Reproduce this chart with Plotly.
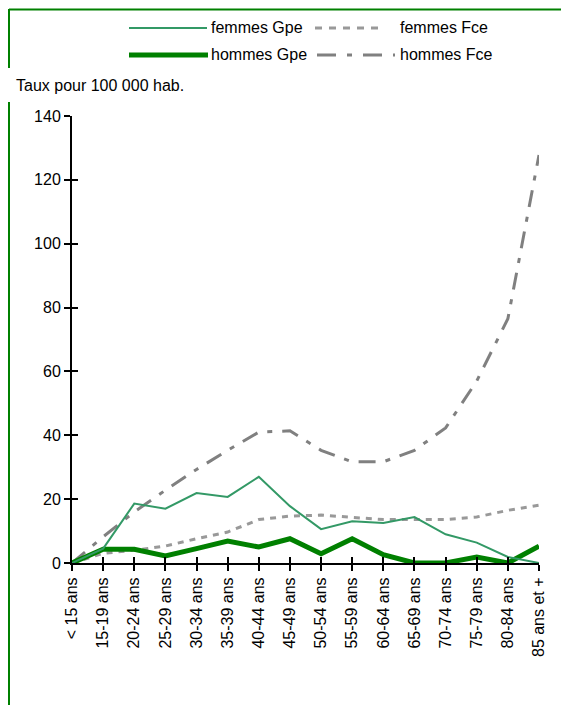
import plotly.graph_objects as go

# 16 age groups
categories = ["< 15 ans", "15-19 ans", "20-24 ans", "25-29 ans", "30-34 ans", "35-39 ans",
              "40-44 ans", "45-49 ans", "50-54 ans", "55-59 ans", "60-64 ans", "65-69 ans",
              "70-74 ans", "75-79 ans", "80-84 ans", "85 ans et +"]

femmes_gpe = [0, 4.5, 18.6, 17.0, 21.9, 20.7, 27.0, 17.8, 10.6, 13.1, 12.5, 14.4, 9.0, 6.4, 1.9, 0]
hommes_gpe = [0, 4.3, 4.3, 2.2, 4.5, 6.9, 5.0, 7.6, 2.9, 7.6, 2.6, 0, 0, 1.9, 0, 5.3]
femmes_fce = [0, 3.0, 4.0, 5.3, 7.6, 9.7, 13.6, 14.7, 15.0, 14.4, 13.6, 13.6, 13.6, 14.4, 16.5, 18.1]
hommes_fce = [0, 8.2, 16.0, 22.8, 29.3, 35.3, 41.0, 41.4, 35.3, 31.7, 31.7, 35.3, 42.3, 57.0, 76.5, 127.8]

y_ticks = [0, 20, 40, 60, 80, 100, 120, 140]

# the page body adds an 8 px offset; layout is expressed in page pixels below
OFF = 8
W, H = 569, 705
PL, PR, PT, PB = 72, 539, 116, 563          # plot area in page pixels
L, T = PL - OFF, PT - OFF
R, B = W - (PR - OFF), H - (PB - OFF)
PW, PH = PR - PL, PB - PT


def px(x):
    return (x - PL) / PW


def py(y):
    return (PB - y) / PH


FONT = "Liberation Sans, Arial, sans-serif"
FS = 16

fig = go.Figure()

series = [
    ("femmes Gpe", femmes_gpe, dict(color="#339966", width=2)),
    ("femmes Fce", femmes_fce, dict(color="#999999", width=3, dash="6px,6px")),
    ("hommes Fce", hommes_fce, dict(color="#808080", width=3, dash="17px,10px,5px,10px")),
    ("hommes Gpe", hommes_gpe, dict(color="#008000", width=5)),
]
for i, (name, vals, line) in enumerate(series):
    fig.add_trace(go.Scatter(
        x=categories, y=vals, name=name, mode="lines", line=line,
        showlegend=False, hoverinfo="skip",
        xaxis="x2" if i == 0 else "x", yaxis="y2" if i == 0 else "y",
    ))

axis_common = dict(showgrid=False, zeroline=False, color="black",
                   tickfont=dict(family=FONT, size=FS, color="black"))

fig.update_layout(
    width=W, height=H,
    margin=dict(l=L, r=R, t=T, b=B),
    paper_bgcolor="white", plot_bgcolor="white",
    font=dict(family=FONT, size=FS, color="black"),
    xaxis=dict(type="category", categoryorder="array", categoryarray=categories,
               range=[0, len(categories) - 1], showline=True, linecolor="black",
               linewidth=2, ticks="outside", ticklen=6, tickwidth=2, tickcolor="black",
               tickangle=-90, layer="below traces", **axis_common),
    yaxis=dict(range=[0, 140], tickvals=y_ticks, showline=True, linecolor="black",
               linewidth=2, ticks="outside", ticklen=6, tickwidth=2, tickcolor="black",
               layer="below traces", **axis_common),
    xaxis2=dict(type="category", categoryorder="array", categoryarray=categories,
                range=[0, len(categories) - 1], overlaying="x", ticks="inside", ticklen=6,
                tickwidth=2, tickcolor="black", showticklabels=False, showgrid=False,
                zeroline=False, showline=False, anchor="y", side="bottom"),
    yaxis2=dict(range=[0, 140], tickvals=y_ticks, overlaying="y", ticks="inside", ticklen=6,
                tickwidth=2, tickcolor="black", showticklabels=False, showgrid=False,
                zeroline=False, showline=False, anchor="x", side="left"),
)

shapes = []
border = dict(color="#008000", width=2)
# frame (page pixels)
shapes.append(dict(type="line", xref="paper", yref="paper", x0=px(9), x1=px(580),
                   y0=py(9.5), y1=py(9.5), line=border))
shapes.append(dict(type="line", xref="paper", yref="paper", x0=px(9), x1=px(9),
                   y0=py(9), y1=py(68), line=border))
shapes.append(dict(type="line", xref="paper", yref="paper", x0=px(9), x1=px(9),
                   y0=py(102), y1=py(720), line=border))

# legend samples (page pixels)
legend_items = [
    ("femmes Gpe", 129, 207, 209, 28, dict(color="#339966", width=2)),
    ("hommes Gpe", 129, 208, 209, 55, dict(color="#008000", width=5)),
    ("femmes Fce", 315, 384, 398, 28, dict(color="#999999", width=3, dash="7px,7px")),
    ("hommes Fce", 317, 395, 398, 55, dict(color="#808080", width=3, dash="19px,11px,5px,11px")),
]
annotations = []
for name, x0, x1, xt, yy, line in legend_items:
    shapes.append(dict(type="line", xref="paper", yref="paper", x0=px(x0), x1=px(x1),
                       y0=py(yy), y1=py(yy), line=line))
    annotations.append(dict(text=name, xref="paper", yref="paper", x=px(xt), y=py(yy),
                            xanchor="left", yanchor="middle", showarrow=False,
                            font=dict(family=FONT, size=FS, color="black")))

annotations.append(dict(text="Taux pour 100 000 hab.", xref="paper", yref="paper",
                        x=px(14), y=py(85), xanchor="left", yanchor="middle",
                        showarrow=False, font=dict(family=FONT, size=FS, color="black")))

fig.update_layout(shapes=shapes, annotations=annotations)

fig.write_html("out.html")
